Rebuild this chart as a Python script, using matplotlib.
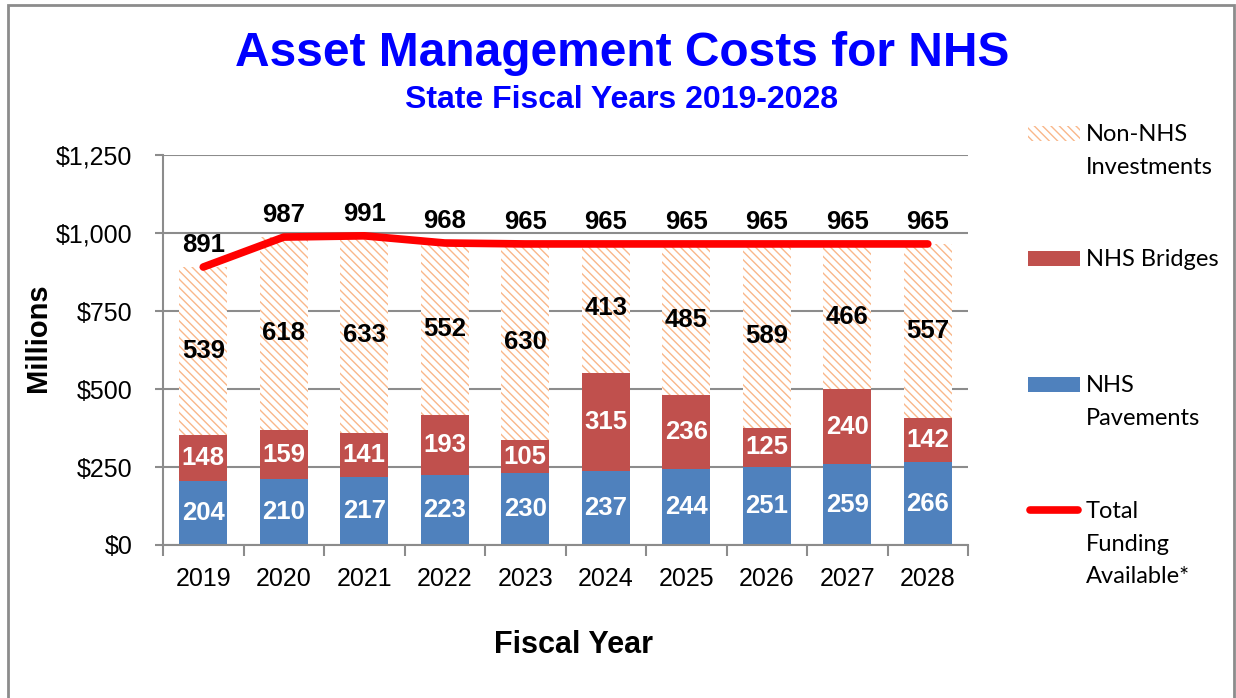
import matplotlib
matplotlib.use("Agg")
import matplotlib.pyplot as plt
from matplotlib.patches import Rectangle
from matplotlib.lines import Line2D
from matplotlib.ticker import FuncFormatter, MultipleLocator

years = ['2019', '2020', '2021', '2022', '2023', '2024', '2025', '2026', '2027', '2028']
pavements = [204, 210, 217, 223, 230, 237, 244, 251, 259, 266]
bridges = [148, 159, 141, 193, 105, 315, 236, 125, 240, 142]
non_nhs = [539, 618, 633, 552, 630, 413, 485, 589, 466, 557]
funding = [891, 987, 991, 968, 965, 965, 965, 965, 965, 965]

BLUE = '#4F81BD'
RED = '#C0504D'
PEACH = '#F9B78A'
GRID = '#8C8C8C'

plt.rcParams['font.family'] = ['Liberation Sans', 'DejaVu Sans']
plt.rcParams['hatch.linewidth'] = 1.0

fig = plt.figure(figsize=(12.36, 6.98), dpi=100)
ax = fig.add_axes([0.1319, 0.2192, 0.6513, 0.5587])

x = list(range(len(years)))
width = 0.6
base2 = [p + b for p, b in zip(pavements, bridges)]

b1 = ax.bar(x, pavements, width, color=BLUE, zorder=2)
b2 = ax.bar(x, bridges, width, bottom=pavements, color=RED, zorder=2)
b3 = ax.bar(x, non_nhs, width, bottom=base2, facecolor='white',
            edgecolor=PEACH, linewidth=0, hatch='\\\\\\\\', zorder=2)
ax.plot(x, funding, color='#FF0000', linewidth=5.5, solid_capstyle='round',
        solid_joinstyle='round', zorder=4)

ax.bar_label(b1, labels=[str(v) for v in pavements], label_type='center',
             color='white', fontsize=18.5, fontweight='bold', zorder=5)
ax.bar_label(b2, labels=[str(v) for v in bridges], label_type='center',
             color='white', fontsize=18.5, fontweight='bold', zorder=5)
ax.bar_label(b3, labels=[str(v) for v in non_nhs], label_type='center',
             color='black', fontsize=18.5, fontweight='bold', zorder=5)
for i, v in enumerate(funding):
    ax.annotate(str(v), (i, v), xytext=(0, 16), textcoords='offset points',
                ha='center', va='center', fontsize=18.5, fontweight='bold', zorder=5)

ax.set_xlim(-0.5, len(years) - 0.5)
ax.set_ylim(0, 1250)
ax.yaxis.set_major_locator(MultipleLocator(250))
ax.yaxis.set_major_formatter(FuncFormatter(lambda v, p: f'${v:,.0f}'))
ax.grid(axis='y', color=GRID, linewidth=1.5, zorder=0)
ax.set_axisbelow(True)

ax.set_xticks(x)
ax.set_xticklabels(years)
ax.set_xticks([i - 0.5 for i in range(len(years) + 1)], minor=True)
ax.tick_params(axis='x', which='major', length=0, pad=16, labelsize=18)
ax.tick_params(axis='x', which='minor', length=8, width=1.5, color=GRID)
ax.tick_params(axis='y', length=6, width=1.5, color=GRID, pad=16, labelsize=18)

for side in ['top', 'right']:
    ax.spines[side].set_visible(False)
for side in ['left', 'bottom']:
    ax.spines[side].set_color(GRID)
    ax.spines[side].set_linewidth(1.5)

fig.text(0.503, 0.924, 'Asset Management Costs for NHS', ha='center', va='center',
         fontsize=34.5, fontweight='bold', color='#0000FF')
fig.text(0.503, 0.857, 'State Fiscal Years 2019-2028', ha='center', va='center',
         fontsize=23, fontweight='bold', color='#0000FF')
fig.text(0.031, 0.516, 'Millions', rotation=90, ha='center', va='center',
         fontsize=21, fontweight='bold')
fig.text(0.464, 0.076, 'Fiscal Year', ha='center', va='center',
         fontsize=22, fontweight='bold')

# legend drawn by hand so each swatch lines up with the first text line
W, H = 1236.0, 698.0
entries = [
    ('hatch', 'Non-NHS\nInvestments', 133),
    ('bridge', 'NHS Bridges', 258),
    ('pave', 'NHS\nPavements', 384),
    ('line', 'Total\nFunding\nAvailable*', 510),
]
for kind, label, ypx in entries:
    yf = 1 - ypx / H
    if kind == 'line':
        fig.add_artist(Line2D([1030 / W, 1078 / W], [yf, yf], color='#FF0000',
                              linewidth=5.5, solid_capstyle='round'))
    else:
        hh = 15 / H
        if kind == 'hatch':
            r = Rectangle((1028 / W, yf - hh / 2), 52 / W, hh, facecolor='white',
                          edgecolor=PEACH, linewidth=0, hatch='\\\\\\\\')
        else:
            r = Rectangle((1028 / W, yf - hh / 2), 52 / W, hh,
                          facecolor=BLUE if kind == 'pave' else RED, linewidth=0)
        fig.add_artist(r)
    fig.text(1086 / W, yf + 9 / H, label, ha='left', va='top', fontsize=17,
             family=['Lato', 'DejaVu Sans'], linespacing=1.68)

fig.add_artist(Rectangle((8 / W, -0.01), (1234 - 8) / W, 1 - 5 / H + 0.01,
                         fill=False, edgecolor='#8C8C8C', linewidth=2))

fig.savefig('out.png', dpi=100)
